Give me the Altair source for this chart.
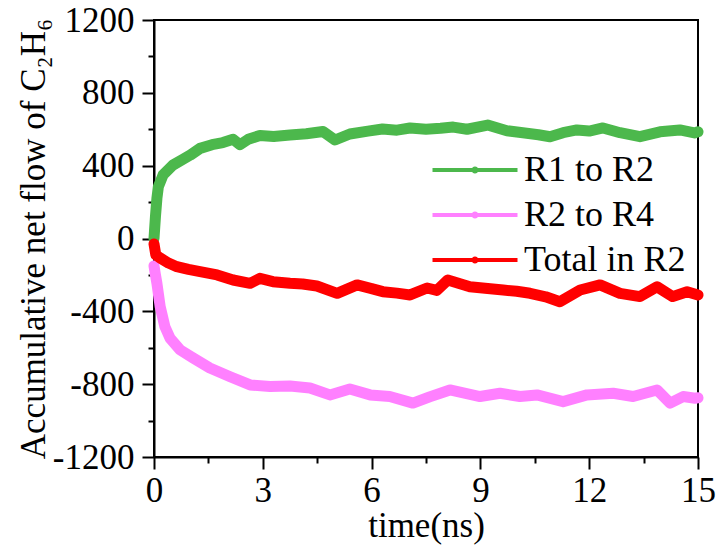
import altair as alt
import pandas as pd

series_names = ["R1 to R2", "R2 to R4", "Total in R2"]
series_colors = ["#4CB84C", "#FF80FF", "#FF0000"]

t_green = [0, 0.04, 0.08, 0.12, 0.25, 0.52, 0.8, 1.0, 1.27, 1.6, 1.9, 2.18, 2.37, 2.6, 2.92, 3.3,
           3.75, 4.2, 4.66, 4.99, 5.4, 5.9, 6.3, 6.7, 7.06, 7.5, 7.9, 8.25, 8.63, 9.2, 9.73, 10.17,
           10.6, 10.92, 11.28, 11.66, 12.0, 12.38, 12.85, 13.4, 13.95, 14.5, 14.9, 15.0]
v_green = [0, 120, 220, 284, 349, 403, 435, 458, 495, 515, 527, 545, 515, 545, 566, 560,
           568, 575, 588, 541, 574, 590, 601, 595, 607, 600, 605, 612, 600, 623, 592, 581,
           570, 559, 581, 596, 590, 607, 581, 559, 586, 596, 580, 586]

t_pink = [0, 0.04, 0.08, 0.17, 0.3, 0.44, 0.72, 1.08, 1.54, 2.1, 2.65, 3.2, 3.75, 4.3, 4.85,
          5.4, 5.96, 6.5, 7.14, 7.6, 8.16, 8.99, 9.54, 10.09, 10.56, 11.28, 11.94, 12.66, 13.21,
          13.87, 14.23, 14.59, 14.92, 15.0]
v_pink = [-150, -200, -246, -374, -484, -547, -612, -656, -711, -759, -804, -813, -810, -821, -859,
          -827, -859, -868, -904, -870, -832, -868, -850, -868, -859, -896, -859, -850, -868,
          -832, -904, -868, -877, -875]

t_red = [0, 0.05, 0.17, 0.4, 0.63, 0.95, 1.27, 1.74, 2.18, 2.65, 2.92, 3.28, 3.75, 4.1, 4.49,
         5.05, 5.6, 6.0, 6.31, 6.7, 7.06, 7.53, 7.8, 8.1, 8.71, 9.2, 9.63, 10.0, 10.37, 10.8,
         11.19, 11.75, 12.3, 12.85, 13.4, 13.87, 14.3, 14.7, 15.0]
v_red = [-30, -90, -107, -135, -155, -170, -182, -200, -228, -246, -219, -237, -246, -250, -261,
         -301, -255, -275, -292, -300, -310, -272, -285, -228, -265, -275, -283, -290, -301, -320,
         -347, -283, -255, -301, -319, -265, -319, -292, -310]

x_ticks = [0, 1.5, 3, 4.5, 6, 7.5, 9, 10.5, 12, 13.5, 15]
y_ticks = [-1200, -1000, -800, -600, -400, -200, 0, 200, 400, 600, 800, 1000, 1200]

rows = []
for name, ts, vs in [(series_names[0], t_green, v_green),
                     (series_names[1], t_pink, v_pink),
                     (series_names[2], t_red, v_red)]:
    for t, v in zip(ts, vs):
        rows.append({"time": t, "flow": v, "series": name})
df = pd.DataFrame(rows)

FONT = "Liberation Serif"
# symbol size 400 -> half-size 10 px; line spans +-42.5 px, dot radius 1.5 px (+ stroke)
legend_symbol = "M-4.25,0H4.25M0.15,0A0.15,0.15,0,1,1,-0.15,0A0.15,0.15,0,1,1,0.15,0"

chart = alt.Chart(df).mark_line(strokeWidth=11, strokeJoin="round", strokeCap="round").encode(
    x=alt.X("time:Q", scale=alt.Scale(domain=[0, 15], nice=False),
            axis=alt.Axis(values=x_ticks, title="time(ns)",
                          labelExpr="datum.value % 3 == 0 ? datum.label : ''",
                          tickSize={"condition": {"test": "datum.value % 3 == 0", "value": 12}, "value": 6},
                          labelOverlap=False, labelFlush=False)),
    y=alt.Y("flow:Q", scale=alt.Scale(domain=[-1200, 1200], nice=False),
            axis=alt.Axis(values=y_ticks, title="Accumulative net flow of C₂H₆",
                          labelExpr="datum.value % 400 == 0 ? ('' + datum.value) : ''",
                          tickSize={"condition": {"test": "datum.value % 400 == 0", "value": 12}, "value": 6},
                          labelOverlap=False, labelFlush=False)),
    color=alt.Color("series:N", scale=alt.Scale(domain=series_names, range=series_colors),
                    legend=alt.Legend(title=None, orient="none", legendX=303, legendY=132,
                                      symbolType=legend_symbol, symbolSize=400,
                                      symbolStrokeWidth=4, labelOffset=31, rowPadding=9,
                                      labelFont=FONT, labelFontSize=36, labelColor="black",
                                      labelLimit=400)),
    order=alt.Order("time:Q"),
).properties(
    width=544, height=437,
    autosize=alt.AutoSizeParams(type="none"),
    padding={"left": 154, "top": 20, "right": 20, "bottom": 95},
).configure_view(
    stroke="black", strokeWidth=2
).configure_axis(
    domainColor="black", domainWidth=2, tickColor="black", tickWidth=2,
    labelFont=FONT, labelFontSize=35, labelColor="black", labelPadding=4,
    titleFont=FONT, titleFontSize=35, titleFontWeight="normal", titleColor="black",
    grid=False,
).configure_axisX(titlePadding=0).configure_axisY(titlePadding=1, labelPadding=8)

chart.save("out.html", embed_options={"renderer": "svg", "actions": False})
